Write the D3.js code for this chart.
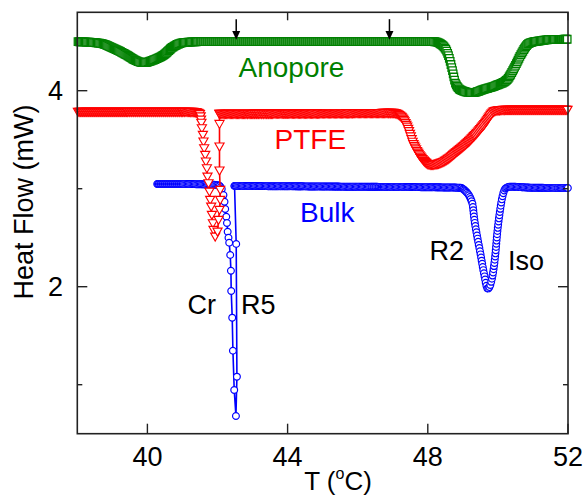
<!DOCTYPE html>
<html><head><meta charset="utf-8">
<script src="https://cdn.jsdelivr.net/npm/d3@7"></script>
<style>body{margin:0;background:#fff} text{font-family:"Liberation Sans",Arial,sans-serif;fill:#000}</style>
</head><body><svg id="c" width="583" height="497"></svg>
<script>
// ---------------- data ----------------
const xTicks = [40, 44, 48, 52];
const yTicksMajor = [2, 4];
const yTicksMinor = [1, 3];

// Anopore (squares) – slow scan
const anoporeT  = [38.02, 38.65, 39.03, 39.41, 39.70, 39.89, 40.17, 40.46, 40.74, 41.03, 41.51, 43.0, 45.0, 47.0, 48.17, 48.46, 48.60, 48.70, 48.79, 48.98, 49.27, 49.60, 49.98, 50.27, 50.46, 50.65, 50.89, 51.22, 51.60, 52.0];
const anoporeHF = [4.50, 4.484, 4.433, 4.364, 4.303, 4.286, 4.313, 4.364, 4.449, 4.49, 4.50, 4.50, 4.50, 4.50, 4.50, 4.449, 4.347, 4.211, 4.076, 4.00, 3.98, 4.014, 4.058, 4.116, 4.229, 4.364, 4.484, 4.51, 4.524, 4.525];

// PTFE (down triangles)
const ptfeT1  = [38.02, 39.0, 40.0, 41.0, 41.30, 41.42, 41.51, 41.53, 41.55];
const ptfeHF1 = [3.783, 3.783, 3.783, 3.783, 3.782, 3.776, 3.752, 3.70, 3.64];
const ptfeJumpT  = [41.554, 41.583, 41.60, 41.62, 41.649, 41.669, 41.697, 41.714, 41.743, 41.771, 41.791, 41.82, 41.84, 41.869, 41.886, 41.934, 42.0, 42.029, 42.057, 42.077, 42.077, 42.057, 42.057, 42.057, 42.057];
const ptfeJumpHF = [3.616, 3.548, 3.48, 3.412, 3.344, 3.276, 3.208, 3.122, 3.055, 2.969, 2.885, 2.816, 2.732, 2.647, 2.579, 2.51, 2.561, 2.681, 2.783, 2.885, 2.987, 3.184, 3.429, 3.66, 3.762];
const ptfeT2  = [42.057, 43.0, 44.0, 46.0, 47.0, 47.22, 47.41, 47.60, 47.79, 48.08, 48.46, 48.84, 49.22, 49.60, 49.93, 50.22, 51.0, 52.0];
const ptfeHF2 = [3.762, 3.764, 3.765, 3.77, 3.772, 3.74, 3.633, 3.446, 3.327, 3.242, 3.276, 3.378, 3.497, 3.65, 3.793, 3.803, 3.803, 3.803];

// Bulk (circles)
const bulkT1  = [40.28, 41.0, 41.9, 42.05, 42.13];
const bulkHF1 = [3.048, 3.048, 3.04, 3.03, 2.99];
const bulkJumpT  = [42.17, 42.20, 42.22, 42.25, 42.27, 42.29, 42.314, 42.334, 42.363, 42.383, 42.391, 42.42, 42.44, 42.477, 42.526, 42.554, 42.534, 42.486];
const bulkJumpHF = [2.935, 2.867, 2.793, 2.714, 2.65, 2.561, 2.50, 2.449, 2.323, 2.163, 1.956, 1.684, 1.347, 0.946, 0.681, 1.082, 2.436, 3.028];
const bulkT2  = [42.486, 44.0, 46.0, 48.0, 48.93, 49.03, 49.27, 49.33, 49.41, 49.50, 49.60, 49.71, 49.84, 49.93, 49.98, 50.05, 50.13, 50.22, 50.36, 51.0, 52.0];
const bulkHF2 = [3.028, 3.025, 3.02, 3.015, 3.01, 2.99, 2.85, 2.68, 2.51, 2.34, 2.14, 1.98, 2.10, 2.34, 2.545, 2.75, 2.92, 3.004, 3.02, 3.01, 3.007];

const arrowT = [42.534, 46.906];
const labels = [
  {text: "Anopore", T: 44.11, hf: 4.14, color: "#008000", size: 28},
  {text: "PTFE", T: 44.65, hf: 3.405, color: "#ff0000", size: 28},
  {text: "Bulk", T: 45.13, hf: 2.66, color: "#0000ff", size: 28},
  {text: "Cr", T: 41.55, hf: 1.72, color: "#000", size: 27},
  {text: "R5", T: 43.16, hf: 1.72, color: "#000", size: 27},
  {text: "R2", T: 48.54, hf: 2.27, color: "#000", size: 27},
  {text: "Iso", T: 50.8, hf: 2.17, color: "#000", size: 27}
];

// ---------------- chart ----------------
const svg = d3.select("#c");
const x = d3.scaleLinear().domain([38, 52]).range([77.3, 568]);
const y = d3.scaleLinear().domain([0.5, 4.8]).range([433.7, 12.3]);
const zip = (a, b) => a.map((v, i) => [v, b[i]]);

const plot = svg.append("g");
const slowLine = d3.line().x(d => x(d[0])).y(d => y(d[1])).curve(d3.curveMonotoneX);
const fastLine = d3.line().x(d => x(d[0])).y(d => y(d[1]));

const shapes = {
  square: d3.symbol().type(d3.symbolSquare).size(56)(),
  circle: d3.symbol().type(d3.symbolCircle).size(36)(),
  tri: "M-4.6,-3.6L4.6,-3.6L0,4.4Z"
};

function sampleAlong(node, dx, maxD) {
  const L = node.getTotalLength();
  const pts = [];
  let last = null;
  for (let s = 0; s <= L + 0.01; s += 0.4) {
    const p = node.getPointAtLength(Math.min(s, L));
    if (!last || Math.abs(p.x - last.x) >= dx || Math.hypot(p.x - last.x, p.y - last.y) >= maxD) {
      pts.push([p.x, p.y]); last = p;
    }
  }
  return pts;
}

function drawSlow(data, color, shape, sw) {
  const g = plot.append("g");
  const path = g.append("path").datum(data).attr("d", slowLine)
    .attr("fill", "none").attr("stroke", color).attr("stroke-width", 1);
  const pts = sampleAlong(path.node(), 0.8, 3.0);
  g.selectAll("path.m").data(pts).join("path").attr("class", "m")
    .attr("d", shape).attr("transform", d => `translate(${d[0]},${d[1]})`)
    .attr("fill", "#fff").attr("stroke", color).attr("stroke-width", sw);
}
function drawFast(data, color, shape, sw) {
  const g = plot.append("g");
  g.append("path").datum(data).attr("d", fastLine)
    .attr("fill", "none").attr("stroke", color).attr("stroke-width", 1.6);
  g.selectAll("path.m").data(data).join("path").attr("class", "m")
    .attr("d", shape).attr("transform", d => `translate(${x(d[0])},${y(d[1])})`)
    .attr("fill", "#fff").attr("stroke", color).attr("stroke-width", sw);
}

// Anopore
drawSlow(zip(anoporeT, anoporeHF), "#008000", shapes.square, 1.3);
// Bulk
drawSlow(zip(bulkT1, bulkHF1), "#0000ff", shapes.circle, 1.2);
drawFast(zip(bulkJumpT, bulkJumpHF), "#0000ff", shapes.circle, 1.2);
drawSlow(zip(bulkT2, bulkHF2), "#0000ff", shapes.circle, 1.2);
// PTFE
drawSlow(zip(ptfeT1, ptfeHF1), "#ff0000", shapes.tri, 1.2);
drawFast(zip(ptfeJumpT, ptfeJumpHF), "#ff0000", shapes.tri, 1.1);
drawSlow(zip(ptfeT2, ptfeHF2), "#ff0000", shapes.tri, 1.2);

// arrows
arrowT.forEach(t => {
  const xa = x(t);
  svg.append("line").attr("x1", xa).attr("x2", xa).attr("y1", y(4.73)).attr("y2", y(4.60))
    .attr("stroke", "#000").attr("stroke-width", 1.5);
  svg.append("path").attr("d", `M${xa - 4},${y(4.61)}L${xa + 4},${y(4.61)}L${xa},${y(4.52)}Z`).attr("fill", "#000");
});

// frame
const fr = svg.append("g");
fr.append("rect").attr("x", x(38)).attr("y", y(4.8)).attr("width", x(52) - x(38)).attr("height", y(0.5) - y(4.8))
  .attr("fill", "none").attr("stroke", "#222").attr("stroke-width", 1.6);

// x ticks (bottom & top)
xTicks.forEach(t => {
  fr.append("line").attr("x1", x(t)).attr("x2", x(t)).attr("y1", y(0.5)).attr("y2", y(0.5) - 10).attr("stroke", "#222").attr("stroke-width", 1.4);
  fr.append("line").attr("x1", x(t)).attr("x2", x(t)).attr("y1", y(4.8)).attr("y2", y(4.8) + 8).attr("stroke", "#222").attr("stroke-width", 1.4);
  svg.append("text").attr("x", x(t)).attr("y", 466).attr("text-anchor", "middle").attr("font-size", 27).text(t);
});
yTicksMajor.forEach(t => {
  fr.append("line").attr("x1", x(38)).attr("x2", x(38) + 10).attr("y1", y(t)).attr("y2", y(t)).attr("stroke", "#222").attr("stroke-width", 1.4);
  fr.append("line").attr("x1", x(52)).attr("x2", x(52) - 10).attr("y1", y(t)).attr("y2", y(t)).attr("stroke", "#222").attr("stroke-width", 1.4);
  svg.append("text").attr("x", 63).attr("y", y(t) + 9.5).attr("text-anchor", "end").attr("font-size", 27).text(t);
});
yTicksMinor.forEach(t => {
  fr.append("line").attr("x1", x(38)).attr("x2", x(38) + 5).attr("y1", y(t)).attr("y2", y(t)).attr("stroke", "#222").attr("stroke-width", 1.4);
  fr.append("line").attr("x1", x(52)).attr("x2", x(52) - 5).attr("y1", y(t)).attr("y2", y(t)).attr("stroke", "#222").attr("stroke-width", 1.4);
});

// axis titles
const xt = svg.append("text").attr("x", 338).attr("y", 490).attr("text-anchor", "middle").attr("font-size", 26);
xt.append("tspan").text("T (");
xt.append("tspan").attr("font-size", 16).attr("dy", -11).text("o");
xt.append("tspan").attr("dy", 11).text("C)");
svg.append("text").attr("transform", "translate(33,202) rotate(-90)").attr("text-anchor", "middle").attr("font-size", 27).text("Heat Flow (mW)");

// labels
labels.forEach(l => {
  svg.append("text").attr("x", x(l.T)).attr("y", y(l.hf)).attr("text-anchor", "middle")
    .attr("font-size", l.size).style("fill", l.color).text(l.text);
});
</script></body></html>
